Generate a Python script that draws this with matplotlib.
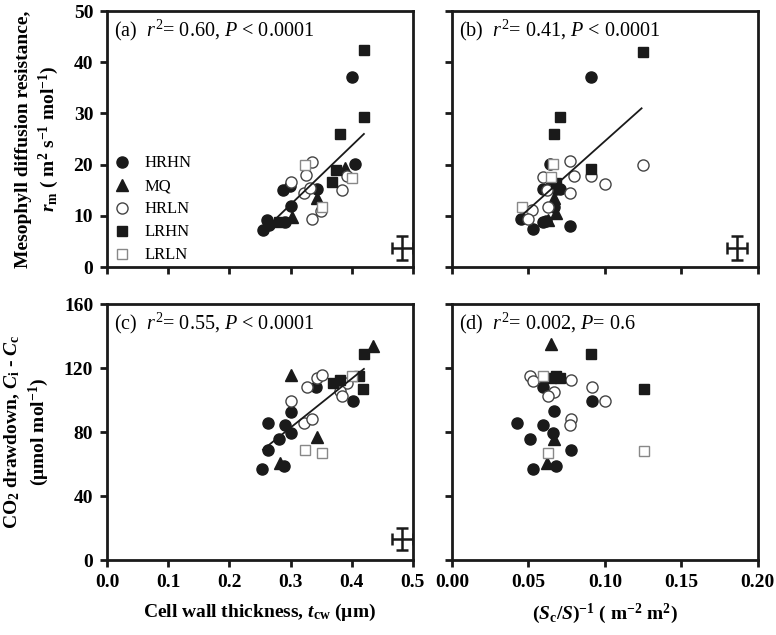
import matplotlib
matplotlib.use('Agg')
import matplotlib.pyplot as plt
from matplotlib.lines import Line2D

plt.rcParams['font.family'] = ['Liberation Serif', 'DejaVu Serif']
plt.rcParams['mathtext.fontset'] = 'custom'
plt.rcParams['mathtext.rm'] = 'Liberation Serif'
plt.rcParams['mathtext.it'] = 'Liberation Serif:italic'
plt.rcParams['mathtext.bf'] = 'Liberation Serif:bold'
plt.rcParams['mathtext.bfit'] = 'Liberation Serif:italic:bold'

# ─── data ───
groups = ['HRHN', 'MQ', 'HRLN', 'LRHN', 'LRLN']

# (a) cell wall thickness vs r_m
a_grp = ['HRHN'] * 10 + ['MQ'] * 3 + ['HRLN'] * 9 + ['LRHN'] * 6 + ['LRLN'] * 3
a_x = [0.255, 0.261, 0.265, 0.291, 0.288, 0.299, 0.301, 0.343, 0.405, 0.400,
       0.302, 0.343, 0.389,
       0.301, 0.335, 0.325, 0.322, 0.332, 0.350, 0.335, 0.392, 0.384,
       0.281, 0.368, 0.374, 0.381, 0.420, 0.420,
       0.324, 0.351, 0.400]
a_y = [7.2, 9.2, 8.2, 8.8, 15.0, 15.8, 11.9, 15.2, 20.1, 37.1,
       9.8, 13.5, 19.3,
       16.6, 20.5, 18.0, 14.5, 15.4, 10.9, 9.4, 17.8, 15.0,
       8.8, 16.6, 19.0, 26.0, 29.3, 42.4,
       19.9, 11.7, 17.4]

# (b) (Sc/S)^-1 vs r_m
b_grp = ['HRHN'] * 12 + ['MQ'] * 3 + ['HRLN'] * 11 + ['LRHN'] * 5 + ['LRLN'] * 3
b_x = [0.091, 0.045, 0.0595, 0.0615, 0.053, 0.077, 0.0595, 0.068, 0.0665, 0.064, 0.0705, 0.065,
       0.067, 0.063, 0.068,
       0.077, 0.080, 0.091, 0.100, 0.125, 0.077, 0.0595, 0.062, 0.063, 0.052, 0.0495,
       0.125, 0.0705, 0.0665, 0.091, 0.068,
       0.066, 0.065, 0.046]
b_y = [37.1, 9.4, 8.8, 9.0, 7.4, 8.0, 15.2, 15.2, 11.7, 20.1, 15.2, 17.0,
       13.5, 9.2, 10.5,
       20.7, 17.8, 17.8, 16.2, 19.9, 14.5, 17.6, 15.0, 11.7, 11.1, 9.4,
       42.0, 29.3, 26.0, 19.1, 16.5,
       20.1, 17.6, 11.7]

# (c) cell wall thickness vs Ci - Cc
c_grp = ['HRHN'] * 10 + ['MQ'] * 4 + ['HRLN'] * 9 + ['LRHN'] * 5 + ['LRLN'] * 3
c_x = [0.253, 0.289, 0.263, 0.281, 0.301, 0.291, 0.263, 0.301, 0.402, 0.341,
       0.301, 0.343, 0.283, 0.435,
       0.327, 0.343, 0.351, 0.392, 0.381, 0.384, 0.301, 0.322, 0.335,
       0.369, 0.381, 0.418, 0.412, 0.420,
       0.400, 0.324, 0.351]
c_y = [57, 58.8, 68.8, 75.6, 79.4, 84.4, 85.6, 92.5, 99.4, 108,
       115.6, 77, 61, 134,
       108, 113.7, 115.6, 111, 105.6, 102.5, 99.4, 85.6, 88,
       110.6, 112.5, 107, 115, 129,
       115, 68.8, 67]

# (d) (Sc/S)^-1 vs Ci - Cc
d_grp = ['HRHN'] * 10 + ['MQ'] * 3 + ['HRLN'] * 9 + ['LRHN'] * 5 + ['LRLN'] * 3
d_x = [0.0595, 0.0915, 0.0667, 0.0425, 0.0595, 0.066, 0.051, 0.068, 0.053, 0.078,
       0.0647, 0.0667, 0.062,
       0.051, 0.053, 0.067, 0.063, 0.0915, 0.100, 0.078, 0.078, 0.077,
       0.065, 0.068, 0.091, 0.1255, 0.0705,
       0.0595, 0.063, 0.1255]
d_y = [108, 99.4, 93, 85.6, 84.4, 79.4, 75.6, 58.8, 57, 68.8,
       135, 76, 61,
       115, 112, 105, 102.5, 108, 99.4, 112.5, 88, 84.4,
       113.7, 115, 129, 107, 113.7,
       115, 67, 68]

# regression lines: slope, intercept, x range
fit_a = (115.0, -22.3, 0.255, 0.42)
fit_b = (267.0, -2.1, 0.045, 0.124)
fit_c = (306.0, -9.0, 0.255, 0.42)

# representative error bars: x, y, xerr, yerr
err_a = (0.483, 3.7, 0.017, 2.3)
err_b = (0.1865, 3.7, 0.0065, 2.3)
err_c = (0.483, 13.0, 0.017, 7.0)

labels = ['(a)  $r^2$= 0.60, $P$ < 0.0001',
          '(b)  $r^2$= 0.41, $P$ < 0.0001',
          '(c)  $r^2$= 0.55, $P$ < 0.0001',
          '(d)  $r^2$= 0.002, $P$= 0.6']

styles = {
    'HRHN': dict(marker='o', mfc='#1a1a1a', mec='#1a1a1a'),
    'MQ': dict(marker='^', mfc='#1a1a1a', mec='#1a1a1a'),
    'HRLN': dict(marker='o', mfc='white', mec='#444444'),
    'LRHN': dict(marker='s', mfc='#1a1a1a', mec='#1a1a1a'),
    'LRLN': dict(marker='s', mfc='white', mec='#888888'),
}
msize = {'o': 8.0, '^': 8.5, 's': 7.2}


def scatter_groups(ax, grp, xs, ys):
    for g in groups:
        px = [x for x, gg in zip(xs, grp) if gg == g]
        py = [y for y, gg in zip(ys, grp) if gg == g]
        st = styles[g]
        ax.plot(px, py, ls='none', marker=st['marker'], ms=msize[st['marker']],
                mfc=st['mfc'], mec=st['mec'], mew=1.0)


def draw_fit(ax, fit):
    k, b, x0, x1 = fit
    ax.plot([x0, x1], [k * x0 + b, k * x1 + b], color='#1a1a1a', lw=1.3)


def draw_err(ax, err):
    x, y, xe, ye = err
    ax.errorbar([x], [y], xerr=[xe], yerr=[ye], fmt='none', ecolor='#1a1a1a',
                elinewidth=1.8, capsize=4.5, capthick=1.8)


fig = plt.figure(figsize=(7.76, 6.35), dpi=100)
ax_a = fig.add_axes([0.138, 0.5795, 0.394, 0.403])
ax_b = fig.add_axes([0.5825, 0.5795, 0.394, 0.403])
ax_c = fig.add_axes([0.138, 0.118, 0.394, 0.403])
ax_d = fig.add_axes([0.5825, 0.118, 0.394, 0.403])

scatter_groups(ax_a, a_grp, a_x, a_y)
scatter_groups(ax_b, b_grp, b_x, b_y)
scatter_groups(ax_c, c_grp, c_x, c_y)
scatter_groups(ax_d, d_grp, d_x, d_y)
draw_fit(ax_a, fit_a)
draw_fit(ax_b, fit_b)
draw_fit(ax_c, fit_c)
draw_err(ax_a, err_a)
draw_err(ax_b, err_b)
draw_err(ax_c, err_c)

for ax, lab in zip([ax_a, ax_b, ax_c, ax_d], labels):
    ax.text(0.022, 0.975, lab, transform=ax.transAxes, ha='left', va='top', fontsize=14.5)
    for sp in ax.spines.values():
        sp.set_linewidth(2.0)
        sp.set_color('#1a1a1a')
    ax.tick_params(direction='out', length=5, width=2.0, color='#1a1a1a',
                   labelsize=14, pad=5)

ax_a.set_xlim(0, 0.5)
ax_c.set_xlim(0, 0.5)
ax_b.set_xlim(0, 0.2)
ax_d.set_xlim(0, 0.2)
for ax in (ax_a, ax_b):
    ax.set_ylim(0, 50)
    ax.set_yticks([0, 10, 20, 30, 40, 50])
for ax in (ax_c, ax_d):
    ax.set_ylim(0, 160)
    ax.set_yticks([0, 40, 80, 120, 160])
ax_c.set_xticks([0.0, 0.1, 0.2, 0.3, 0.4, 0.5])
ax_c.set_xticklabels(['0.0', '0.1', '0.2', '0.3', '0.4', '0.5'], fontweight='bold')
ax_d.set_xticks([0.0, 0.05, 0.10, 0.15, 0.20])
ax_d.set_xticklabels(['0.00', '0.05', '0.10', '0.15', '0.20'], fontweight='bold')
ax_a.set_xticks([0.0, 0.1, 0.2, 0.3, 0.4, 0.5])
ax_b.set_xticks([0.0, 0.05, 0.10, 0.15, 0.20])
for ax in (ax_a, ax_b):
    ax.tick_params(labelbottom=False)
for ax in (ax_b, ax_d):
    ax.tick_params(labelleft=False)
ax_a.set_yticklabels(['0', '10', '20', '30', '40', '50'], fontweight='bold')
ax_c.set_yticklabels(['0', '40', '80', '120', '160'], fontweight='bold')

ax_a.set_ylabel('Mesophyll diffusion resistance,\n'
                r'$\mathbfit{r}_{\mathbf{m}}$ ( m$^{\mathbf{2}}$ s$^{\mathbf{-1}}$ mol$^{\mathbf{-1}}$)',
                fontsize=14, fontweight='bold', labelpad=9, linespacing=1.3)
ax_c.set_ylabel(r'CO$_{\mathbf{2}}$ drawdown, $\mathbfit{C}_{\mathbf{i}}$ - $\mathbfit{C}_{\mathbf{c}}$'
                '\n' r'($\mathbf{\mu}$mol mol$^{\mathbf{-1}}$)',
                fontsize=14, fontweight='bold', labelpad=9, linespacing=1.3)
ax_c.set_xlabel(r'Cell wall thickness, $\mathbfit{t}_{\mathbf{cw}}$ (µm)',
                fontsize=14, fontweight='bold', labelpad=8)
ax_d.set_xlabel(r'($\mathbfit{S}_{\mathbf{c}}$/$\mathbfit{S}$)$^{\mathbf{-1}}$ ( m$^{\mathbf{-2}}$ m$^{\mathbf{2}}$)',
                fontsize=14, fontweight='bold', labelpad=8)

handles = []
for g in groups:
    st = styles[g]
    handles.append(Line2D([], [], ls='none', marker=st['marker'], ms=msize[st['marker']],
                          mfc=st['mfc'], mec=st['mec'], mew=1.0, label=g))
ax_a.legend(handles=handles, loc='lower left', bbox_to_anchor=(-0.01, -0.025),
            frameon=False, fontsize=12, handletextpad=0.8, labelspacing=0.42,
            handlelength=1.0, borderaxespad=0.2)

fig.savefig('out.png', dpi=100)
